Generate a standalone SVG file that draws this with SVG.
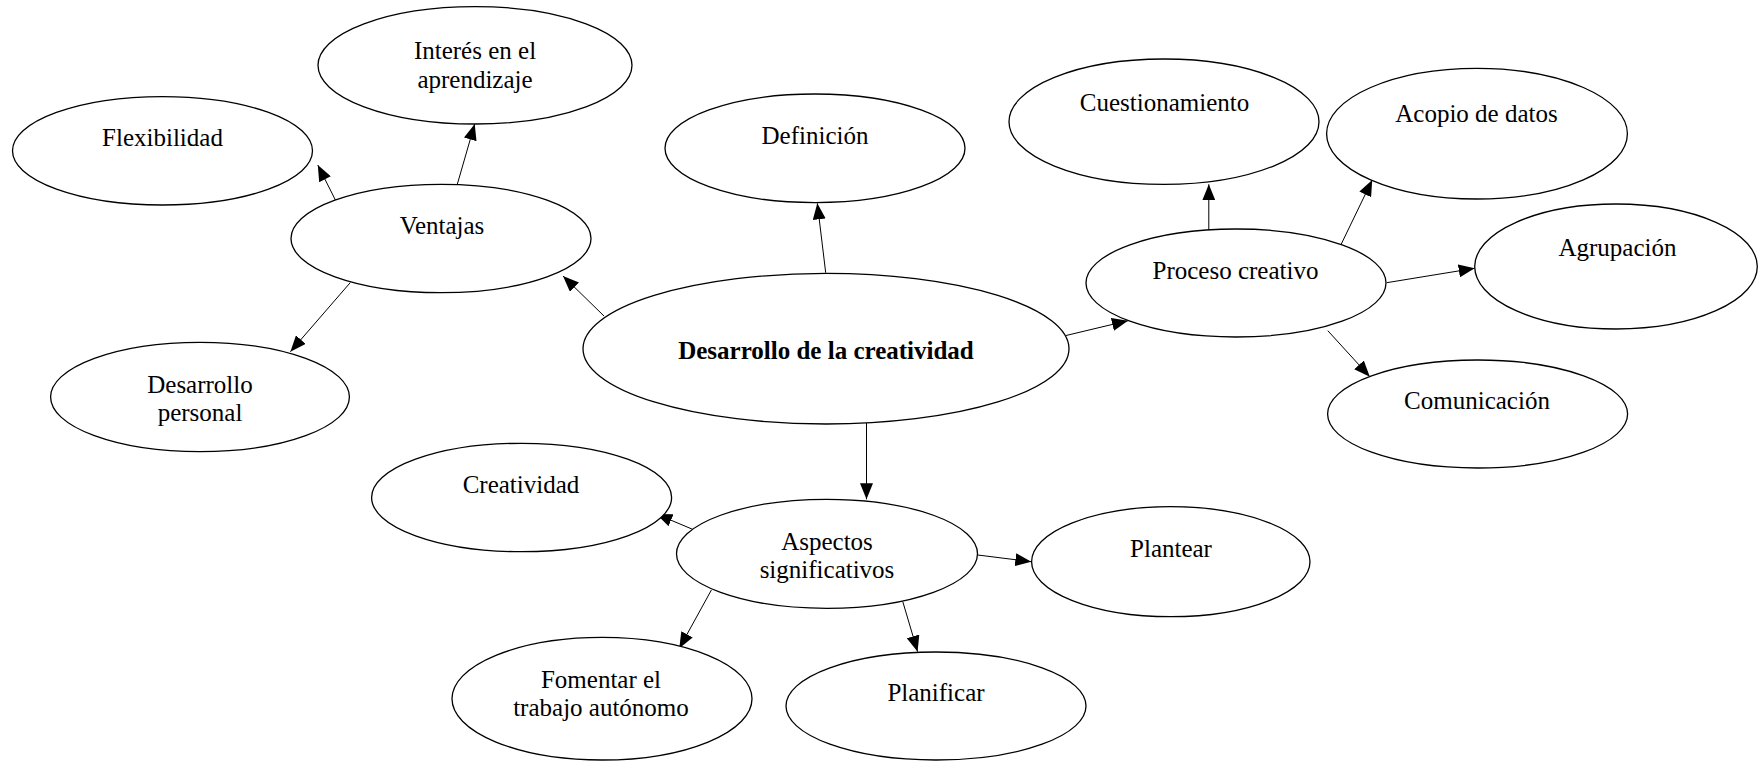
<svg xmlns="http://www.w3.org/2000/svg" width="1758" height="761" viewBox="0 0 1758 761">
<style>
.n ellipse{fill:#fff;stroke:#000;stroke-width:1.3}
.n text{font-family:"Liberation Serif","Times New Roman",serif;font-size:25px;fill:#000;text-anchor:middle}
.n text.b{font-weight:bold}
.c line{stroke:#000;stroke-width:1;marker-end:url(#ah)}
</style>
<defs>
<marker id="ah" markerUnits="userSpaceOnUse" markerWidth="16" markerHeight="13" refX="16" refY="6.5" orient="auto">
<path d="M0,0 L16,6.5 L0,13 Z" fill="#000"/>
</marker>
</defs>
<rect width="1758" height="761" fill="#fff"/>
<g id="connectors" class="c">
<line x1="825.7" y1="272.7" x2="817.3" y2="203.3"/>
<line x1="604" y1="316" x2="563" y2="276"/>
<line x1="1066" y1="335.5" x2="1128" y2="320.7"/>
<line x1="866.5" y1="423" x2="866.5" y2="499.3"/>
<line x1="335.4" y1="200" x2="317.8" y2="165"/>
<line x1="456.6" y1="186.7" x2="474.7" y2="124"/>
<line x1="350.2" y1="282.7" x2="290.4" y2="351.7"/>
<line x1="1208.8" y1="231.7" x2="1208.8" y2="184.3"/>
<line x1="1341.3" y1="244" x2="1372.2" y2="180"/>
<line x1="1386.7" y1="282.7" x2="1474.7" y2="268.3"/>
<line x1="1327.8" y1="330.7" x2="1369.8" y2="376.7"/>
<line x1="699.7" y1="532.3" x2="656.3" y2="514"/>
<line x1="977.8" y1="555" x2="1031.3" y2="561.7"/>
<line x1="711.4" y1="590" x2="679.3" y2="648.3"/>
<line x1="902.8" y1="601.7" x2="917.6" y2="651.7"/>
</g>
<g id="n-desarrollo-creatividad" class="n">
<ellipse cx="826" cy="348.7" rx="243" ry="75.3"/>
<text class="b" x="826" y="359">Desarrollo de la creatividad</text>
</g>
<g id="n-definicion" class="n">
<ellipse cx="815" cy="148.3" rx="150" ry="54.3"/>
<text x="815" y="144">Definición</text>
</g>
<g id="n-ventajas" class="n">
<ellipse cx="441" cy="238.5" rx="150" ry="54.2"/>
<text x="442" y="234">Ventajas</text>
</g>
<g id="n-interes" class="n">
<ellipse cx="475" cy="65.3" rx="157" ry="58.7"/>
<text x="475" y="59">Interés en el</text>
<text x="475" y="88">aprendizaje</text>
</g>
<g id="n-flexibilidad" class="n">
<ellipse cx="162.5" cy="150.8" rx="150" ry="54.2"/>
<text x="162.5" y="146">Flexibilidad</text>
</g>
<g id="n-desarrollo-personal" class="n">
<ellipse cx="200" cy="397" rx="149.4" ry="54.7"/>
<text x="200" y="393">Desarrollo</text>
<text x="200" y="421">personal</text>
</g>
<g id="n-proceso" class="n">
<ellipse cx="1236" cy="283" rx="150" ry="54"/>
<text x="1235.5" y="279">Proceso creativo</text>
</g>
<g id="n-cuestionamiento" class="n">
<ellipse cx="1164" cy="121.7" rx="155" ry="62.7"/>
<text x="1164.5" y="111">Cuestionamiento</text>
</g>
<g id="n-acopio" class="n">
<ellipse cx="1477" cy="133.7" rx="150.4" ry="65.3"/>
<text x="1476.5" y="122">Acopio de datos</text>
</g>
<g id="n-agrupacion" class="n">
<ellipse cx="1616" cy="266.5" rx="141.3" ry="62.5"/>
<text x="1617.5" y="256">Agrupación</text>
</g>
<g id="n-comunicacion" class="n">
<ellipse cx="1477.6" cy="414" rx="150" ry="54"/>
<text x="1477" y="409">Comunicación</text>
</g>
<g id="n-aspectos" class="n">
<ellipse cx="827" cy="553.8" rx="150.5" ry="54.5"/>
<text x="827" y="550">Aspectos</text>
<text x="827" y="578">significativos</text>
</g>
<g id="n-creatividad" class="n">
<ellipse cx="521.6" cy="497.5" rx="150" ry="54.2"/>
<text x="521" y="493">Creatividad</text>
</g>
<g id="n-plantear" class="n">
<ellipse cx="1170.8" cy="561.7" rx="139.2" ry="55"/>
<text x="1171" y="557">Plantear</text>
</g>
<g id="n-fomentar" class="n">
<ellipse cx="602" cy="698.7" rx="150" ry="61.3"/>
<text x="601" y="688">Fomentar el</text>
<text x="601" y="716">trabajo autónomo</text>
</g>
<g id="n-planificar" class="n">
<ellipse cx="936" cy="706" rx="150" ry="54"/>
<text x="936" y="701">Planificar</text>
</g>
</svg>
